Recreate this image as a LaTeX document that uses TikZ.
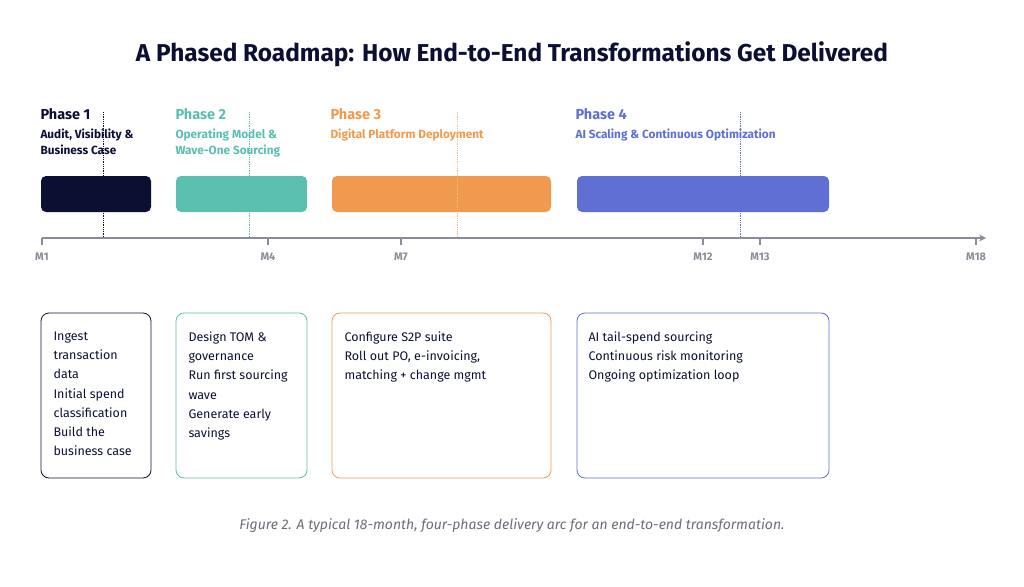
\documentclass[tikz,border=0pt]{standalone}
\usepackage{fontspec}
\setmainfont{Fira Sans}
\usetikzlibrary{arrows.meta}
\definecolor{navy}{HTML}{0B1033}
\definecolor{teal}{HTML}{5BBFB0}
\definecolor{orng}{HTML}{F09A50}
\definecolor{blu}{HTML}{5F6FD4}
\definecolor{axisgray}{HTML}{8A8D99}
\definecolor{capgray}{HTML}{6B6E78}
\tikzset{
  phase/.style = {anchor=west, font=\bfseries\fontsize{14.5}{16}\selectfont},
  sub/.style = {anchor=north west, align=left, font=\bfseries\fontsize{11.8}{16}\selectfont},
  bar/.style = {rounded corners=5pt},
  card/.style = {draw, rounded corners=8pt, line width=0.8pt},
  item/.style = {anchor=north west, align=left, text=navy, font=\fontsize{12.5}{19.3}\selectfont},
  tick/.style = {anchor=north, text=axisgray, font=\bfseries\fontsize{11}{12}\selectfont},
  marker/.style = {densely dotted, line width=0.8pt}
}
\begin{document}
\begin{tikzpicture}[x=1pt, y=-1pt]
      \useasboundingbox (0,0) rectangle (1024,586);
      \node (title) at (512,54) {\bfseries\fontsize{24.4}{28}\selectfont\color{navy}A Phased Roadmap: How End-to-End Transformations Get Delivered};
      % phase headings
      \node [phase, text=navy] (p1) at (37,114) {Phase 1};
      \node [phase, text=teal] (p2) at (172,114) {Phase 2};
      \node [phase, text=orng] (p3) at (327,114) {Phase 3};
      \node [phase, text=blu] (p4) at (572,114) {Phase 4};
      \node [sub, text=navy] (s1) at (37,125) {Audit, Visibility \&\\Business Case};
      \node [sub, text=teal] (s2) at (172,125) {Operating Model \&\\Wave-One Sourcing};
      \node [sub, text=orng] (s3) at (327,125) {Digital Platform Deployment};
      \node [sub, text=blu] (s4) at (572,125) {AI Scaling \& Continuous Optimization};
      % bars
      \fill [bar, navy] (41,176) rectangle (151,212);
      \fill [bar, teal] (176,176) rectangle (307,212);
      \fill [bar, orng] (332,176) rectangle (551,212);
      \fill [bar, blu] (577,176) rectangle (829,212);
      % dotted markers
      \draw [marker, navy] (103,112) -- (103,238);
      \draw [marker, teal] (249,112) -- (249,238);
      \draw [marker, orng!70] (457,112) -- (457,238);
      \draw [marker, blu] (740,112) -- (740,238);
      % axis
      \coordinate (a0) at (42,238);
      \coordinate (a1) at (986,238);
      \draw [axisgray, line width=1.2pt, -{Stealth[length=7pt,width=7pt]}] (a0) -- (a1);
      \foreach \xx/\lab in {42/M1, 268/M4, 401/M7, 703/M12, 760/M13, 976/M18} {
        \draw [axisgray, line width=1.2pt] (\xx,238) -- (\xx,245);
        \node [tick] at (\xx,249) {\lab};
      }
      % cards
      \draw [card, navy] (41,313) rectangle (151,478);
      \draw [card, teal] (176,313) rectangle (307,478);
      \draw [card, orng] (332,313) rectangle (551,478);
      \draw [card, blu] (577,313) rectangle (829,478);
      \node [item] (c1) at (50,328) {Ingest\\transaction\\data\\Initial spend\\classification\\Build the\\business case};
      \node [item] (c2) at (185,328) {Design TOM \&\\governance\\Run first sourcing\\wave\\Generate early\\savings};
      \node [item] (c3) at (341,328) {Configure S2P suite\\Roll out PO, e-invoicing,\\matching + change mgmt};
      \node [item] (c4) at (585,328) {AI tail-spend sourcing\\Continuous risk monitoring\\Ongoing optimization loop};
      \node [text=capgray, font=\itshape\fontsize{14}{16}\selectfont] (cap) at (512,526) {Figure 2. A typical 18-month, four-phase delivery arc for an end-to-end transformation.};
\end{tikzpicture}
\end{document}
